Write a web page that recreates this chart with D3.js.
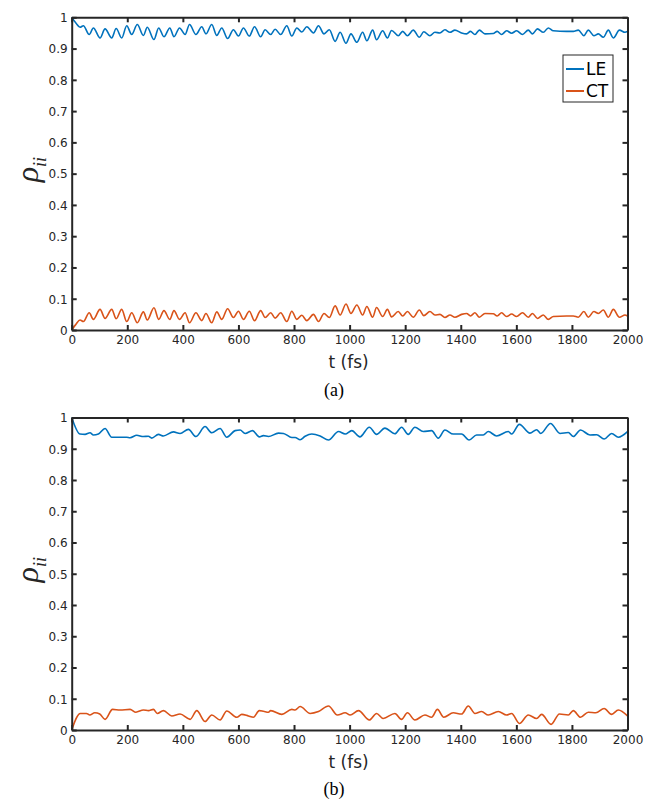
<!DOCTYPE html>
<html>
<head>
<meta charset="utf-8">
<script src="https://cdn.jsdelivr.net/npm/d3@7"></script>
<style>
  body { margin: 0; background: #fff; }
  svg { display: block; }
  .tick text { font-family: "DejaVu Sans", sans-serif; font-size: 12px; fill: #262626; }
</style>
</head>
<body>
<svg id="chart" width="645" height="799"></svg>
<script>
// panel (a)
var topT = [0, 15, 30, 42, 63, 78, 102, 120, 144, 160, 180, 198, 216, 236, 258, 272, 296, 313, 332, 353,
  368, 388, 408, 424, 447, 468, 483, 504, 522, 540, 561, 582, 600, 618, 639, 658, 680, 696, 716, 732,
  752, 774, 792, 810, 828, 846, 870, 888, 908, 927, 948, 966, 987, 1005, 1026, 1047, 1062, 1083, 1097, 1119,
  1136, 1151, 1175, 1191, 1208, 1229, 1251, 1267, 1289, 1307, 1325, 1343, 1361, 1379, 1403, 1421, 1435, 1451, 1467, 1487,
  1517, 1531, 1547, 1565, 1583, 1601, 1622, 1643, 1658, 1676, 1697, 1715, 1733, 1781, 1805, 1823, 1843, 1859, 1879, 1895,
  1913, 1931, 1949, 1971, 1991, 2000];
var topLE = [1.000, 0.982, 0.968, 0.973, 0.945, 0.966, 0.934, 0.963, 0.934, 0.964, 0.934, 0.973, 0.945, 0.977, 0.942, 0.968, 0.929, 0.966, 0.938, 0.966,
  0.938, 0.966, 0.945, 0.977, 0.945, 0.970, 0.947, 0.977, 0.942, 0.966, 0.932, 0.960, 0.940, 0.966, 0.940, 0.970, 0.938, 0.960, 0.945, 0.962,
  0.945, 0.973, 0.940, 0.966, 0.953, 0.970, 0.950, 0.973, 0.947, 0.960, 0.923, 0.952, 0.917, 0.947, 0.920, 0.952, 0.925, 0.959, 0.928, 0.957,
  0.934, 0.958, 0.941, 0.955, 0.941, 0.959, 0.936, 0.954, 0.941, 0.952, 0.950, 0.960, 0.952, 0.959, 0.950, 0.947, 0.955, 0.945, 0.959, 0.947,
  0.948, 0.955, 0.945, 0.957, 0.949, 0.957, 0.945, 0.959, 0.947, 0.963, 0.952, 0.966, 0.957, 0.955, 0.955, 0.959, 0.941, 0.959, 0.941, 0.947,
  0.936, 0.959, 0.934, 0.959, 0.952, 0.955];
var topCT = [0.000, 0.018, 0.032, 0.027, 0.055, 0.034, 0.066, 0.037, 0.066, 0.036, 0.066, 0.027, 0.055, 0.023, 0.058, 0.032, 0.071, 0.034, 0.062, 0.034,
  0.062, 0.034, 0.055, 0.023, 0.055, 0.030, 0.053, 0.023, 0.058, 0.034, 0.068, 0.040, 0.060, 0.034, 0.060, 0.030, 0.062, 0.040, 0.055, 0.038,
  0.055, 0.027, 0.060, 0.034, 0.047, 0.030, 0.050, 0.027, 0.053, 0.040, 0.077, 0.048, 0.083, 0.053, 0.080, 0.048, 0.075, 0.041, 0.072, 0.043,
  0.066, 0.042, 0.059, 0.045, 0.059, 0.041, 0.064, 0.046, 0.059, 0.048, 0.050, 0.040, 0.048, 0.041, 0.050, 0.053, 0.045, 0.055, 0.041, 0.053,
  0.052, 0.045, 0.055, 0.043, 0.051, 0.043, 0.055, 0.041, 0.053, 0.037, 0.048, 0.034, 0.043, 0.045, 0.045, 0.041, 0.059, 0.041, 0.059, 0.053,
  0.064, 0.041, 0.066, 0.041, 0.048, 0.045];

// panel (b)
var botLET = [0, 30, 48, 66, 78, 96, 120, 144, 198, 210, 234, 258, 276, 288, 312, 330, 366, 390, 420, 447,
  480, 504, 534, 558, 588, 606, 624, 651, 675, 690, 708, 744, 762, 792, 804, 822, 840, 864, 894, 924,
  960, 984, 1008, 1037, 1071, 1097, 1127, 1163, 1187, 1211, 1235, 1265, 1295, 1319, 1343, 1373, 1403, 1430, 1457, 1481,
  1499, 1529, 1571, 1583, 1611, 1649, 1673, 1688, 1723, 1757, 1787, 1805, 1831, 1865, 1889, 1916, 1943, 1967, 2000];
var botLE = [1.000, 0.947, 0.946, 0.951, 0.944, 0.947, 0.965, 0.937, 0.937, 0.935, 0.943, 0.939, 0.940, 0.934, 0.946, 0.941, 0.954, 0.949, 0.962, 0.939,
  0.971, 0.951, 0.965, 0.937, 0.958, 0.960, 0.949, 0.958, 0.938, 0.942, 0.939, 0.950, 0.949, 0.936, 0.936, 0.929, 0.940, 0.947, 0.941, 0.928,
  0.955, 0.947, 0.958, 0.938, 0.969, 0.946, 0.966, 0.948, 0.969, 0.946, 0.969, 0.955, 0.958, 0.934, 0.960, 0.947, 0.947, 0.928, 0.944, 0.944,
  0.955, 0.941, 0.955, 0.947, 0.978, 0.950, 0.961, 0.949, 0.981, 0.949, 0.952, 0.939, 0.960, 0.944, 0.945, 0.931, 0.949, 0.937, 0.955];
var botCTT = [0, 31, 53, 65, 83, 101, 120, 147, 174, 210, 231, 258, 276, 294, 308, 330, 360, 390, 426, 450,
  480, 504, 534, 558, 594, 612, 636, 654, 675, 690, 708, 716, 756, 792, 804, 822, 858, 888, 924, 956,
  984, 1002, 1032, 1071, 1097, 1121, 1163, 1187, 1208, 1235, 1271, 1295, 1316, 1339, 1373, 1403, 1427, 1451, 1475, 1499,
  1535, 1565, 1583, 1611, 1643, 1673, 1691, 1725, 1755, 1787, 1805, 1831, 1859, 1886, 1916, 1943, 1967, 2000];
var botCT = [0.000, 0.053, 0.053, 0.048, 0.055, 0.051, 0.034, 0.066, 0.064, 0.066, 0.057, 0.064, 0.062, 0.066, 0.053, 0.062, 0.045, 0.051, 0.034, 0.062,
  0.027, 0.048, 0.032, 0.061, 0.041, 0.050, 0.045, 0.041, 0.062, 0.060, 0.057, 0.062, 0.050, 0.066, 0.064, 0.075, 0.053, 0.059, 0.077, 0.048,
  0.055, 0.048, 0.062, 0.032, 0.053, 0.037, 0.053, 0.034, 0.055, 0.032, 0.048, 0.041, 0.066, 0.041, 0.055, 0.051, 0.077, 0.053, 0.059, 0.048,
  0.059, 0.048, 0.053, 0.021, 0.048, 0.037, 0.050, 0.018, 0.051, 0.048, 0.062, 0.041, 0.057, 0.055, 0.069, 0.050, 0.064, 0.045];

var xTicks = [0, 200, 400, 600, 800, 1000, 1200, 1400, 1600, 1800, 2000];
var yTicks = [0, 0.1, 0.2, 0.3, 0.4, 0.5, 0.6, 0.7, 0.8, 0.9, 1];
var seriesNames = ["LE", "CT"];
var colors = ["#0072BD", "#D95319"];

var svg = d3.select("#chart");
svg.append("rect").attr("width", 645).attr("height", 799).attr("fill", "#fff");

var left = 71.7, right = 627.5;
var x = d3.scaleLinear().domain([0, 2000]).range([left, right]);

function drawPanel(top, bottom, series, caption, captionY, withLegend) {
    var y = d3.scaleLinear().domain([0, 1]).range([bottom, top]);
    var g = svg.append("g");

    var line = d3.line()
        .x(function(d) { return x(d[0]); })
        .y(function(d) { return y(d[1]); })
        .curve(d3.curveMonotoneX);

    series.forEach(function(s, i) {
        var pts = s.t.map(function(t, j) { return [t, s.v[j]]; });
        g.append("path")
            .datum(pts)
            .attr("fill", "none")
            .attr("stroke", colors[i])
            .attr("stroke-width", 1.6)
            .attr("d", line);
    });

    var axB = g.append("g").attr("transform", "translate(0," + bottom + ")")
        .call(d3.axisBottom(x).tickValues(xTicks).tickFormat(d3.format("d")).tickSizeInner(-5).tickSizeOuter(0).tickPadding(5));
    var axT = g.append("g").attr("transform", "translate(0," + top + ")")
        .call(d3.axisTop(x).tickValues(xTicks).tickFormat("").tickSizeInner(-5).tickSizeOuter(0));
    var axL = g.append("g").attr("transform", "translate(" + left + ",0)")
        .call(d3.axisLeft(y).tickValues(yTicks).tickFormat(d3.format("~g")).tickSizeInner(-5).tickSizeOuter(0).tickPadding(4));
    var axR = g.append("g").attr("transform", "translate(" + right + ",0)")
        .call(d3.axisRight(y).tickValues(yTicks).tickFormat("").tickSizeInner(-5).tickSizeOuter(0));

    [axB, axT, axL, axR].forEach(function(a) {
        a.select(".domain").attr("stroke", "#262626").attr("stroke-width", 2);
        a.selectAll(".tick line").attr("stroke", "#262626").attr("stroke-width", 2);
    });
    axL.selectAll(".tick text").attr("dy", "0.36em");

    g.append("text")
        .attr("x", (left + right) / 2 - 1)
        .attr("y", bottom + 38)
        .attr("text-anchor", "middle")
        .attr("font-family", "DejaVu Sans, sans-serif")
        .attr("font-size", 17)
        .attr("fill", "#262626")
        .text("t (fs)");

    var yl = g.append("text")
        .attr("transform", "translate(38," + (top + (bottom - top) / 2 - 4) + ") rotate(-90)")
        .attr("text-anchor", "middle")
        .attr("font-family", "Liberation Serif, serif")
        .attr("font-style", "italic")
        .attr("fill", "#262626");
    yl.append("tspan").attr("font-size", 32).text("ρ");
    yl.append("tspan").attr("font-size", 18).attr("dy", 8).text("ii");

    g.append("text")
        .attr("x", 334)
        .attr("y", captionY)
        .attr("text-anchor", "middle")
        .attr("font-family", "Liberation Serif, serif")
        .attr("font-size", 18)
        .attr("fill", "#000")
        .text(caption);

    if (withLegend) {
        var lg = g.append("g").attr("transform", "translate(563,55)");
        lg.append("rect").attr("width", 50).attr("height", 47)
            .attr("fill", "#fff").attr("stroke", "#262626").attr("stroke-width", 1);
        seriesNames.forEach(function(n, i) {
            var yy = 14 + i * 22;
            lg.append("line").attr("x1", 3).attr("x2", 21).attr("y1", yy).attr("y2", yy)
                .attr("stroke", colors[i]).attr("stroke-width", 2);
            lg.append("text").attr("x", 23).attr("y", yy).attr("dy", "0.36em")
                .attr("font-family", "DejaVu Sans, sans-serif").attr("font-size", 17)
                .attr("fill", "#000").text(n);
        });
    }
}

drawPanel(17.3, 330, [{ t: topT, v: topLE }, { t: topT, v: topCT }], "(a)", 396, true);
drawPanel(417.5, 730, [{ t: botLET, v: botLE }, { t: botCTT, v: botCT }], "(b)", 795, false);
</script>
</body>
</html>
